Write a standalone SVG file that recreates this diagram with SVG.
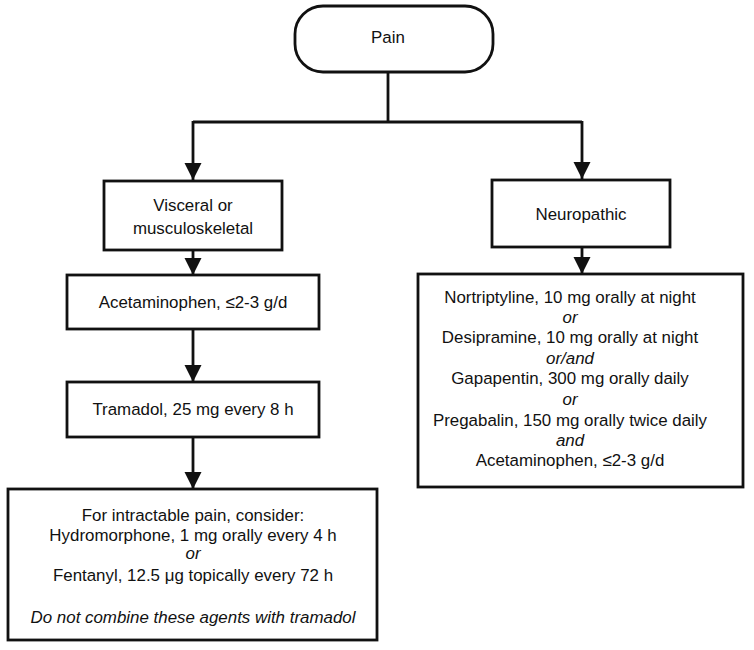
<svg xmlns="http://www.w3.org/2000/svg" width="754" height="650" viewBox="0 0 754 650">
<defs>
<style>
.box{fill:#fff;stroke:#111;stroke-width:2.8}
.t{font-family:"Liberation Sans",Arial,sans-serif;font-size:16.9px;fill:#111;text-anchor:middle}
.i{font-style:italic}
.c{fill:none;stroke:#111;stroke-width:2.8}
</style>
<marker id="ah" viewBox="0 0 10 10" refX="10" refY="5" markerWidth="17" markerHeight="18" markerUnits="userSpaceOnUse" orient="auto">
<path d="M0,0 L10,5 L0,10 z" fill="#111"/>
</marker>
</defs>
<rect width="754" height="650" fill="#fff"/>
<g id="connectors">
<path class="c" d="M388,72 V122"/>
<path class="c" d="M193,122 H582"/>
<path class="c" d="M193,121 V180" marker-end="url(#ah)"/>
<path class="c" d="M582,121 V179" marker-end="url(#ah)"/>
<path class="c" d="M193,250 V275" marker-end="url(#ah)"/>
<path class="c" d="M193,329 V382" marker-end="url(#ah)"/>
<path class="c" d="M193,437 V489" marker-end="url(#ah)"/>
<path class="c" d="M582,247 V274" marker-end="url(#ah)"/>
</g>
<g id="pain">
<rect class="box" x="295" y="6" width="198" height="66" rx="28"/>
<text class="t" x="388" y="43">Pain</text>
</g>
<g id="visceral">
<rect class="box" x="104" y="181" width="178" height="69"/>
<text class="t" x="193" y="211">Visceral or</text>
<text class="t" x="193" y="234">musculoskeletal</text>
</g>
<g id="neuropathic">
<rect class="box" x="492" y="180" width="178" height="67"/>
<text class="t" x="581" y="220">Neuropathic</text>
</g>
<g id="acetaminophen">
<rect class="box" x="67" y="275" width="252" height="54"/>
<text class="t" x="193" y="308">Acetaminophen, ≤2-3 g/d</text>
</g>
<g id="tramadol">
<rect class="box" x="67" y="382" width="252" height="55"/>
<text class="t" x="193" y="415">Tramadol, 25 mg every 8 h</text>
</g>
<g id="intractable">
<rect class="box" x="8" y="489" width="369" height="151"/>
<text class="t" x="193" y="521">For intractable pain, consider:</text>
<text class="t" x="193" y="541">Hydromorphone, 1 mg orally every 4 h</text>
<text class="t i" x="193" y="559">or</text>
<text class="t" x="193" y="581">Fentanyl, 12.5 μg topically every 72 h</text>
<text class="t i" x="193" y="623">Do not combine these agents with tramadol</text>
</g>
<g id="neuro-drugs">
<rect class="box" x="418" y="274" width="325" height="213"/>
<text class="t" x="570" y="303">Nortriptyline, 10 mg orally at night</text>
<text class="t i" x="570" y="323">or</text>
<text class="t" x="570" y="343">Desipramine, 10 mg orally at night</text>
<text class="t i" x="570" y="364">or/and</text>
<text class="t" x="570" y="384">Gapapentin, 300 mg orally daily</text>
<text class="t i" x="570" y="405">or</text>
<text class="t" x="570" y="426">Pregabalin, 150 mg orally twice daily</text>
<text class="t i" x="570" y="446">and</text>
<text class="t" x="570" y="466">Acetaminophen, ≤2-3 g/d</text>
</g>
</svg>
